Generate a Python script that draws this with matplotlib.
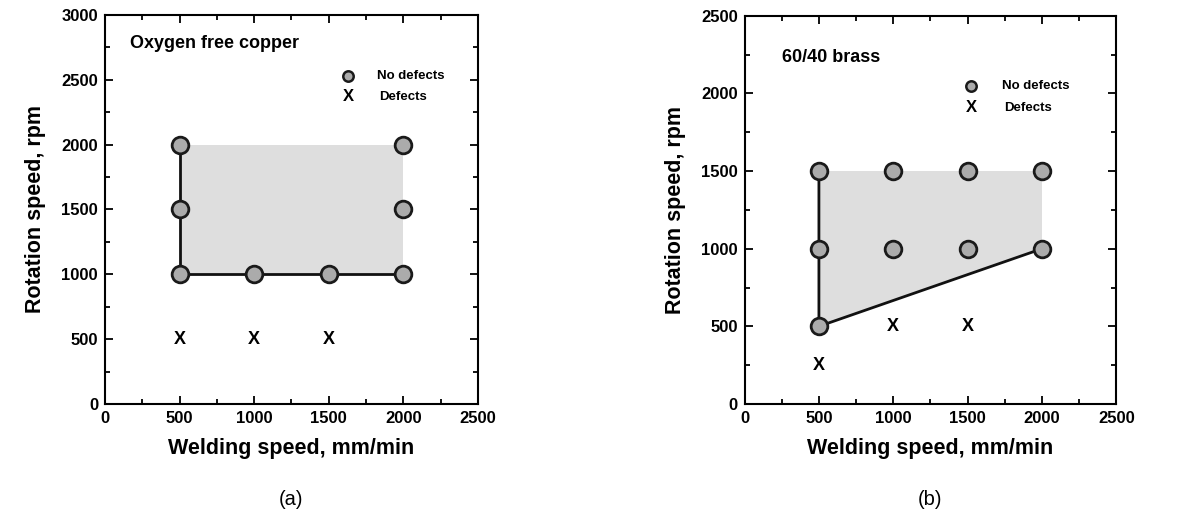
"""Process windows for friction stir welding of copper and brass."""

import matplotlib
matplotlib.use("Agg")
import matplotlib.pyplot as plt
from matplotlib.ticker import MultipleLocator

plt.rcParams["font.family"] = ["Liberation Sans", "DejaVu Sans"]

# (a) oxygen free copper
cu_ok_x = [500, 500, 500, 1000, 1500, 2000, 2000, 2000]
cu_ok_y = [2000, 1500, 1000, 1000, 1000, 1000, 1500, 2000]
cu_bad_x = [500, 1000, 1500]
cu_bad_y = [500, 500, 500]
cu_window_x = [500, 500, 2000, 2000]
cu_window_y = [1000, 2000, 2000, 1000]
cu_edge_x = [500, 500, 2000]
cu_edge_y = [2000, 1000, 1000]

# (b) 60/40 brass
br_ok_x = [500, 1000, 1500, 2000, 500, 1000, 1500, 2000, 500]
br_ok_y = [1500, 1500, 1500, 1500, 1000, 1000, 1000, 1000, 500]
br_bad_x = [500, 1000, 1500]
br_bad_y = [250, 500, 500]
br_window_x = [500, 500, 2000, 2000]
br_window_y = [500, 1500, 1500, 1000]
br_edge_x = [500, 500, 2000]
br_edge_y = [1500, 500, 1000]

panels = [
    dict(ok=(cu_ok_x, cu_ok_y), bad=(cu_bad_x, cu_bad_y),
         window=(cu_window_x, cu_window_y), edge=(cu_edge_x, cu_edge_y),
         ymax=3000, name="Oxygen free copper", name_xy=(165, 2780),
         leg_mark=1630, leg_text=1825, leg_y=(2530, 2368), caption="(a)"),
    dict(ok=(br_ok_x, br_ok_y), bad=(br_bad_x, br_bad_y),
         window=(br_window_x, br_window_y), edge=(br_edge_x, br_edge_y),
         ymax=2500, name="60/40 brass", name_xy=(250, 2230),
         leg_mark=1525, leg_text=1730, leg_y=(2049, 1907), caption="(b)"),
]

fig = plt.figure(figsize=(11.8, 5.12), dpi=100)
axes = [fig.add_axes([0.089, 0.211, 0.316, 0.760]),
        fig.add_axes([0.631, 0.211, 0.315, 0.758])]

for ax, p in zip(axes, panels):
    ax.fill(*p["window"], color="#dedede", lw=0, zorder=1)
    ax.plot(*p["edge"], color="#111111", lw=2, zorder=2)
    ax.plot(*p["ok"], ls="none", marker="o", ms=12, mfc="#ababab",
            mec="#1a1a1a", mew=2, zorder=3)
    for x, y in zip(*p["bad"]):
        ax.text(x, y, "X", ha="center", va="center", fontsize=13,
                fontweight="bold", zorder=3)

    # legend drawn by hand like the original
    ax.plot([p["leg_mark"]], [p["leg_y"][0]], ls="none", marker="o", ms=7.5,
            mfc="#ababab", mec="#1a1a1a", mew=1.8)
    ax.text(p["leg_mark"], p["leg_y"][1], "X", ha="center", va="center",
            fontsize=12, fontweight="bold")
    ax.text(p["leg_text"], p["leg_y"][0], "No defects", va="center",
            fontsize=9.5, fontweight="bold")
    ax.text(p["leg_text"] + 15, p["leg_y"][1], "Defects", va="center",
            fontsize=9.5, fontweight="bold")
    ax.text(*p["name_xy"], p["name"], va="center", fontsize=13,
            fontweight="bold")

    ax.set_xlim(0, 2500)
    ax.set_ylim(0, p["ymax"])
    ax.xaxis.set_major_locator(MultipleLocator(500))
    ax.xaxis.set_minor_locator(MultipleLocator(250))
    ax.yaxis.set_major_locator(MultipleLocator(500))
    ax.yaxis.set_minor_locator(MultipleLocator(250))
    ax.tick_params(which="both", direction="in", top=True, right=True,
                   width=1.3)
    ax.tick_params(which="major", length=6, labelsize=12, pad=5)
    ax.tick_params(which="minor", length=3.5)
    for lab in ax.get_xticklabels() + ax.get_yticklabels():
        lab.set_fontweight("bold")
    for spine in ax.spines.values():
        spine.set_linewidth(1.5)

    ax.set_xlabel("Welding speed, mm/min", fontsize=15.5, fontweight="bold",
                  labelpad=9)
    ax.set_ylabel("Rotation speed, rpm", fontsize=15.5, fontweight="bold",
                  labelpad=11)
    ax.text(0.5, -0.245, p["caption"], transform=ax.transAxes, ha="center",
            va="center", fontsize=14.5)

fig.savefig("out.png", dpi=100)
